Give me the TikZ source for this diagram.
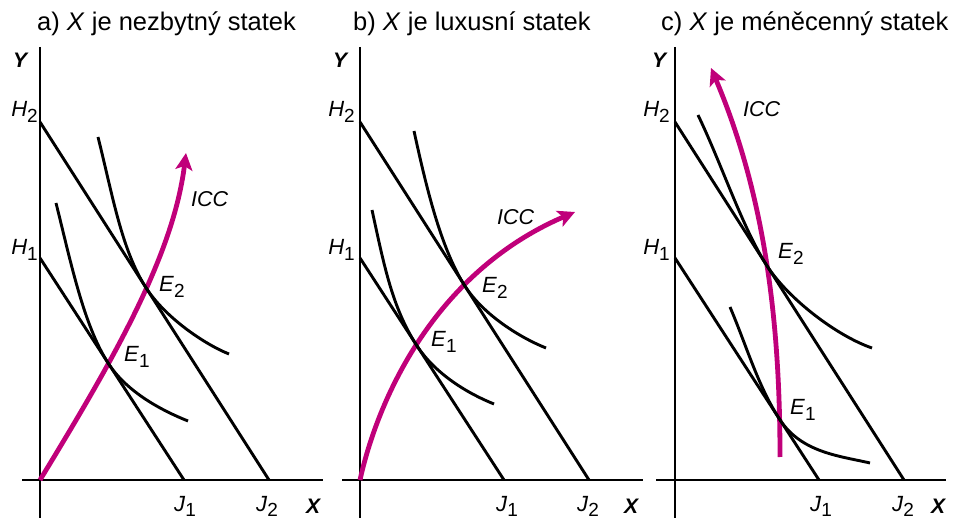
\documentclass[tikz,border=0pt]{standalone}
\usepackage{fontspec}
\setmainfont{Liberation Sans}
\usetikzlibrary{arrows.meta,intersections,calc}
\definecolor{icc}{RGB}{192,0,122}
\newcommand\sublab[2]{\textit{#1}\raisebox{-5.5pt}{\fontsize{19}{19}\selectfont #2}}
\begin{document}
\begin{tikzpicture}[x=1pt,y=-1pt,
  axis/.style={line width=1.2pt},
  budget/.style={line width=2.9pt},
  indiff/.style={line width=2.9pt},
  iccline/.style={line width=4.8pt, draw=icc, -{Stealth[length=17pt,width=17pt,inset=4pt]}},
  lab/.style={font=\fontsize{22}{26}\selectfont, inner sep=0pt},
  axlab/.style={font=\fontsize{21}{24}\selectfont\bfseries\itshape, inner sep=0pt},
  ttl/.style={font=\fontsize{25.5}{29}\selectfont, inner sep=0pt, anchor=base west},
  icclab/.style={font=\fontsize{21.5}{24}\selectfont\itshape, inner sep=0pt, anchor=base west}]
\useasboundingbox (0,0) rectangle (956,518);

% ================= panel a =================
\node[ttl] (ta) at (37,31) {a) \textit{X} je nezbytný statek};
\coordinate (aO) at (40,480);
\coordinate (aH1) at (40,258);
\coordinate (aH2) at (40,122);
\coordinate (aJ1) at (184,480);
\coordinate (aJ2) at (269,480);
\draw[axis] (40,47) -- (40,518);
\draw[axis] (22,480) -- (323,480);
\draw[iccline, name path=iccA] (aO) .. controls (110,365) and (173,258) .. (186,153);
\draw[budget, name path=aL1] (aH1) -- (aJ1);
\draw[budget, name path=aL2] (aH2) -- (aJ2);
\path[name intersections={of=iccA and aL1, by=aE1}];
\path[name intersections={of=iccA and aL2, by=aE2}];
\draw[indiff] (56,203) .. controls (71,263) and ($(aE1)+(-24.5,-37.8)$) .. (aE1)
  .. controls ($(aE1)+(19,29.4)$) and (163,411) .. (188,421);
\draw[indiff] (98,137) .. controls (113,197) and ($(aE2)+(-24.3,-37.9)$) .. (aE2)
  .. controls ($(aE2)+(18.9,29.5)$) and (204,344) .. (229,354);
\node[axlab, anchor=base west] (aY) at (13,68) {Y};
\node[axlab, anchor=base west] (aX) at (306,513) {X};
\node[lab, anchor=base east] (aH2l) at (38,117) {\sublab{H}{2}};
\node[lab, anchor=base east] (aH1l) at (38,255) {\sublab{H}{1}};
\node[lab, anchor=base west] (aJ1l) at (174,511) {\sublab{J}{1}};
\node[lab, anchor=base west] (aJ2l) at (256,511) {\sublab{J}{2}};
\node[lab, anchor=base west] (aE1l) at (124,362) {\sublab{E}{1}};
\node[lab, anchor=base west] (aE2l) at (159,292) {\sublab{E}{2}};
\node[icclab] (aI) at (191,207) {ICC};

% ================= panel b =================
\node[ttl] (tb) at (353,31) {b) \textit{X} je luxusní statek};
\coordinate (bO) at (360,480);
\coordinate (bH1) at (360,258);
\coordinate (bH2) at (360,122);
\coordinate (bJ1) at (504,480);
\coordinate (bJ2) at (589,480);
\draw[axis] (360,47) -- (360,518);
\draw[axis] (342,480) -- (643,480);
\draw[iccline, name path=iccB] (bO) .. controls (380,390) and (440,270) .. (575,212);
\draw[budget, name path=bL1] (bH1) -- (bJ1);
\draw[budget, name path=bL2] (bH2) -- (bJ2);
\path[name intersections={of=iccB and bL1, by=bE1}];
\path[name intersections={of=iccB and bL2, by=bE2}];
\draw[indiff] (372,210) .. controls (384,265) and ($(bE1)+(-24.5,-37.8)$) .. (bE1)
  .. controls ($(bE1)+(19,29.4)$) and (469,394) .. (494,404);
\draw[indiff] (414,131) .. controls (426,186) and ($(bE2)+(-24.3,-37.9)$) .. (bE2)
  .. controls ($(bE2)+(18.9,29.5)$) and (521,338) .. (546,348);
\node[axlab, anchor=base west] (bY) at (333,68) {Y};
\node[axlab, anchor=base west] (bX) at (624,513) {X};
\node[lab, anchor=base east] (bH2l) at (355,117) {\sublab{H}{2}};
\node[lab, anchor=base east] (bH1l) at (355,255) {\sublab{H}{1}};
\node[lab, anchor=base west] (bJ1l) at (496,511) {\sublab{J}{1}};
\node[lab, anchor=base west] (bJ2l) at (577,511) {\sublab{J}{2}};
\node[lab, anchor=base west] (bE1l) at (431,347) {\sublab{E}{1}};
\node[lab, anchor=base west] (bE2l) at (482,293) {\sublab{E}{2}};
\node[icclab] (bI) at (497,225) {ICC};

% ================= panel c =================
\node[ttl] (tc) at (661,31) {c) \textit{X} je méněcenný statek};
\coordinate (cH1) at (675,258);
\coordinate (cH2) at (675,122);
\coordinate (cJ1) at (819,480);
\coordinate (cJ2) at (904,480);
\coordinate (cS) at (780,457);
\draw[axis] (675,47) -- (675,518);
\draw[axis] (656,480) -- (946,480);
\draw[iccline, name path=iccC] (cS) .. controls (780,330) and (767,200) .. (711,68);
\draw[budget, name path=cL1] (cH1) -- (cJ1);
\draw[budget, name path=cL2] (cH2) -- (cJ2);
\path[name intersections={of=iccC and cL1, by=cE1}];
\path[name intersections={of=iccC and cL2, by=cE2}];
\draw[indiff] (730,307) .. controls (747,347) and ($(cE1)+(-21.8,-33.6)$) .. (cE1)
  .. controls ($(cE1)+(21.8,33.6)$) and (840,456) .. (870,463);
\draw[indiff] (698,115) .. controls (722,165) and ($(cE2)+(-24.3,-37.9)$) .. (cE2)
  .. controls ($(cE2)+(21.6,33.7)$) and (837,336) .. (872,348);
\node[axlab, anchor=base west] (cY) at (652,68) {Y};
\node[axlab, anchor=base west] (cX) at (931,513) {X};
\node[lab, anchor=base east] (cH2l) at (670,117) {\sublab{H}{2}};
\node[lab, anchor=base east] (cH1l) at (670,255) {\sublab{H}{1}};
\node[lab, anchor=base west] (cJ1l) at (810,511) {\sublab{J}{1}};
\node[lab, anchor=base west] (cJ2l) at (892,511) {\sublab{J}{2}};
\node[lab, anchor=base west] (cE1l) at (790,415) {\sublab{E}{1}};
\node[lab, anchor=base west] (cE2l) at (778,259) {\sublab{E}{2}};
\node[icclab] (cI) at (743,117) {ICC};
\end{tikzpicture}
\end{document}
